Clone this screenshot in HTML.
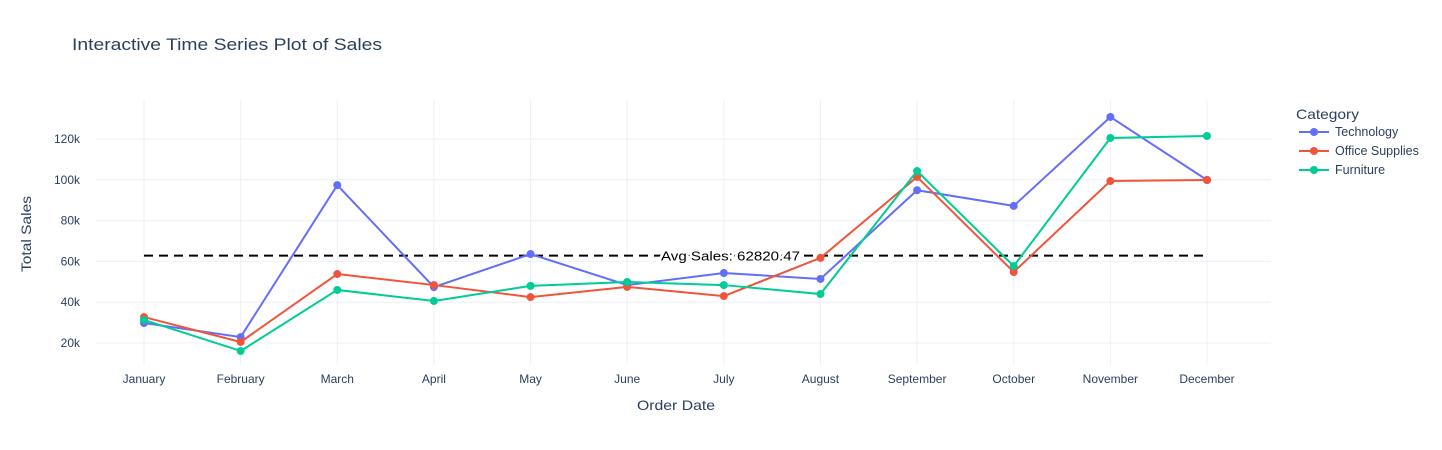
<!DOCTYPE html>
<html><head><meta charset="utf-8"><style>
html,body{margin:0;padding:0;background:#fff;}
svg{display:block;font-family:"Liberation Sans",Arial,sans-serif;}
</style></head><body>
<svg id="chart" width="1442" height="450">
<text x="72" y="50" font-size="17" fill="#2a3f5f" textLength="310" lengthAdjust="spacingAndGlyphs">Interactive Time Series Plot of Sales</text>
<g id="grid"></g>
<g id="axes"></g>
<g id="avg"></g>
<g id="series"></g>
<text x="637" y="410" font-size="14" fill="#2a3f5f" textLength="78" lengthAdjust="spacingAndGlyphs">Order Date</text>
<text transform="translate(31,272) rotate(-90)" font-size="14" fill="#2a3f5f" textLength="76" lengthAdjust="spacingAndGlyphs">Total Sales</text>
<g id="legend">
<text x="1296" y="119" font-size="14" fill="#2a3f5f" textLength="63" lengthAdjust="spacingAndGlyphs">Category</text>
</g>
</svg>
<script>
const months = ["January","February","March","April","May","June","July","August","September","October","November","December"];
const technology = [29.8,22.9,97.4,47.4,63.6,48.4,54.3,51.4,94.9,87.2,130.8,99.9];
const officeSupplies = [32.7,20.5,53.8,48.4,42.5,47.5,43.0,61.7,101.4,54.8,99.4,99.9];
const furniture = [31.3,16.1,46.0,40.6,48.0,49.9,48.4,44.0,104.3,57.7,120.5,121.5];
const yTicks = [20,40,60,80,100,120];
const avgSales = 62820.47;
const seriesNames = ["Technology","Office Supplies","Furniture"];
const seriesColors = ["#636efa","#EF553B","#00cc96"];
const seriesData = [technology, officeSupplies, furniture];

const NS="http://www.w3.org/2000/svg";
const xs = i => 144 + i*(1207-144)/11;
const ys = v => 383.8 - v*2.04;
function mk(tag, attrs, parent){const e=document.createElementNS(NS,tag);for(const k in attrs)e.setAttribute(k,attrs[k]);parent.appendChild(e);return e;}
const grid=document.getElementById('grid'), axes=document.getElementById('axes');
months.forEach((m,i)=>{
  const l=mk('line',{x1:xs(i),x2:xs(i),y1:100,y2:365,stroke:'#ebf0f8','stroke-width':1},grid);
  
  
  const t=mk('text',{x:xs(i),y:383,'font-size':12,fill:'#2a3f5f','text-anchor':'middle'},axes);
  t.textContent=m;
  
  
});
yTicks.forEach(v=>{
  const l=mk('line',{x1:96,x2:1271,y1:ys(v),y2:ys(v),stroke:'#ebf0f8','stroke-width':1},grid);
  
  
  const t=mk('text',{x:80,y:ys(v)+4,'font-size':12,fill:'#2a3f5f','text-anchor':'end'},axes);
  t.textContent=v+'k';
  
  
});
const avg=document.getElementById('avg');
const ay=ys(avgSales/1000);
const al=mk('line',{x1:xs(0),x2:xs(11),y1:ay,y2:ay,stroke:'#000','stroke-width':2,'stroke-dasharray':'9,6'},avg);


const at=mk('text',{x:661,y:ay+5,'font-size':13,fill:'#000',textLength:139,lengthAdjust:'spacingAndGlyphs',stroke:'#fff','stroke-width':5,'paint-order':'stroke'},avg);
at.textContent='Avg Sales: '+avgSales.toFixed(2);


const sg=document.getElementById('series'), lg=document.getElementById('legend');
seriesData.forEach((d,s)=>{
  const g=mk('g',{},sg);
  
  
  const p=mk('polyline',{points:d.map((v,i)=>xs(i)+','+ys(v)).join(' '),fill:'none',stroke:seriesColors[s],'stroke-width':2},g);
  
  
  d.forEach((v,i)=>{
    const c=mk('circle',{cx:xs(i),cy:ys(v),r:4,fill:seriesColors[s]},g);
    
    
  });
  const ly=132+s*19;
  const le=mk('g',{},lg);
  
  
  mk('line',{x1:1299,x2:1329,y1:ly,y2:ly,stroke:seriesColors[s],'stroke-width':2},le);
  mk('circle',{cx:1314,cy:ly,r:4,fill:seriesColors[s]},le);
  const t=mk('text',{x:1335,y:ly+4,'font-size':12.5,fill:'#2a3f5f'},le);
  t.textContent=seriesNames[s];
});
</script>
</body></html>
